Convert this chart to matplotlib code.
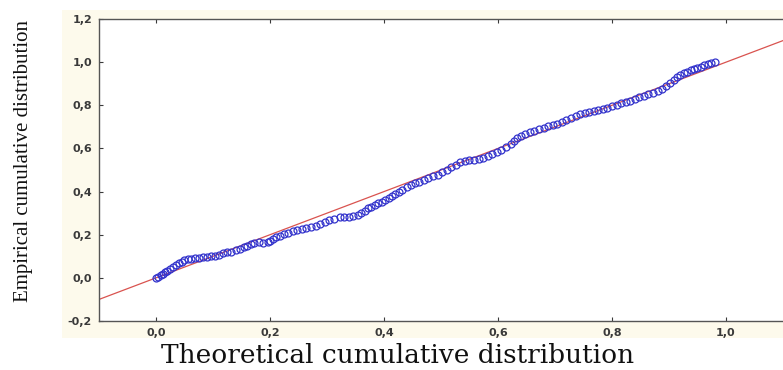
import matplotlib.pyplot as plt
from matplotlib.patches import Rectangle
from matplotlib.ticker import FuncFormatter

# theoretical vs empirical cumulative distribution
theor = [0.000, 0.004, 0.008, 0.012, 0.016, 0.020, 0.025, 0.030, 0.035, 0.040,
         0.045, 0.050, 0.056, 0.062, 0.068, 0.075, 0.082, 0.090, 0.097, 0.104,
         0.111, 0.118, 0.125, 0.132, 0.140, 0.147, 0.154, 0.160, 0.166, 0.172,
         0.180, 0.188, 0.196, 0.200, 0.205, 0.211, 0.218, 0.225, 0.232, 0.240,
         0.248, 0.256, 0.264, 0.272, 0.280, 0.288, 0.296, 0.304, 0.312, 0.322,
         0.330, 0.338, 0.346, 0.354, 0.360, 0.366, 0.372, 0.378, 0.384, 0.390,
         0.396, 0.402, 0.408, 0.414, 0.420, 0.426, 0.432, 0.440, 0.447, 0.455,
         0.462, 0.470, 0.478, 0.486, 0.494, 0.502, 0.510, 0.518, 0.526, 0.534,
         0.542, 0.550, 0.558, 0.566, 0.574, 0.582, 0.590, 0.598, 0.606, 0.614,
         0.622, 0.628, 0.634, 0.640, 0.648, 0.656, 0.664, 0.672, 0.680, 0.688,
         0.696, 0.704, 0.712, 0.720, 0.728, 0.736, 0.744, 0.752, 0.760, 0.768,
         0.776, 0.784, 0.792, 0.800, 0.808, 0.816, 0.824, 0.832, 0.840, 0.848,
         0.856, 0.864, 0.872, 0.880, 0.888, 0.895, 0.902, 0.908, 0.914, 0.920,
         0.926, 0.932, 0.938, 0.944, 0.950, 0.956, 0.962, 0.968, 0.974, 0.980]
empir = [0.000, 0.005, 0.012, 0.020, 0.025, 0.032, 0.040, 0.050, 0.060, 0.068,
         0.075, 0.082, 0.086, 0.088, 0.090, 0.092, 0.095, 0.098, 0.100, 0.103,
         0.108, 0.113, 0.118, 0.122, 0.128, 0.135, 0.142, 0.150, 0.158, 0.162,
         0.165, 0.163, 0.168, 0.172, 0.180, 0.188, 0.195, 0.203, 0.210, 0.215,
         0.220, 0.225, 0.230, 0.236, 0.242, 0.250, 0.258, 0.268, 0.275, 0.280,
         0.282, 0.283, 0.285, 0.290, 0.300, 0.312, 0.322, 0.330, 0.338, 0.345,
         0.352, 0.360, 0.368, 0.378, 0.390, 0.400, 0.408, 0.420, 0.430, 0.438,
         0.445, 0.452, 0.462, 0.470, 0.478, 0.490, 0.500, 0.512, 0.525, 0.535,
         0.540, 0.545, 0.548, 0.552, 0.558, 0.566, 0.575, 0.585, 0.595, 0.605,
         0.620, 0.635, 0.650, 0.660, 0.668, 0.675, 0.683, 0.690, 0.697, 0.703,
         0.708, 0.715, 0.722, 0.730, 0.740, 0.750, 0.758, 0.764, 0.770, 0.774,
         0.778, 0.782, 0.788, 0.795, 0.802, 0.810, 0.816, 0.822, 0.830, 0.838,
         0.845, 0.852, 0.858, 0.866, 0.876, 0.890, 0.905, 0.918, 0.930, 0.940,
         0.948, 0.955, 0.962, 0.968, 0.972, 0.978, 0.985, 0.990, 0.996, 1.000]

ref_line = [-0.1, 1.1]  # y = x reference
x_ticks = [0.0, 0.2, 0.4, 0.6, 0.8, 1.0]
y_ticks = [-0.2, 0.0, 0.2, 0.4, 0.6, 0.8, 1.0, 1.2]

fig = plt.figure(figsize=(7.83, 3.70), dpi=100)
fig.patch.set_facecolor('white')

# cream panel behind the plot and tick labels
fig.patches.append(Rectangle((0.079, 0.086), 0.921, 0.887, transform=fig.transFigure,
                             facecolor='#fdfaec', edgecolor='none', zorder=-5))

ax = fig.add_axes([0.1264, 0.1324, 0.8736, 0.8162])
ax.set_zorder(2)
ax.set_facecolor('white')

ax.plot(ref_line, ref_line, color='#d9534f', linewidth=0.9, zorder=2)
ax.plot(theor, empir, linestyle='none', marker='o', markersize=5,
        markerfacecolor='none', markeredgecolor='#3333cc', markeredgewidth=0.9, zorder=3)

ax.set_xlim(-0.1, 1.1)
ax.set_ylim(-0.2, 1.2)
ax.set_xticks(x_ticks)
ax.set_yticks(y_ticks)

comma = FuncFormatter(lambda v, p: ('%.1f' % v).replace('.', ','))
ax.xaxis.set_major_formatter(comma)
ax.yaxis.set_major_formatter(comma)
ax.tick_params(direction='in', length=3, width=0.8, colors='#3a3a3a', labelsize=8,
               top=True, pad=5)
ax.tick_params(axis='x', labeltop=False)
for lbl in ax.get_xticklabels() + ax.get_yticklabels():
    lbl.set_fontweight('semibold')

for s in ['left', 'bottom', 'top']:
    ax.spines[s].set_color('#555555')
    ax.spines[s].set_linewidth(1.0)
ax.spines['right'].set_visible(False)

fig.text(0.03, 0.565, 'Empirical cumulative distribution', rotation=90,
         ha='center', va='center', family='Liberation Serif', fontsize=15, color='#111111')
fig.text(0.508, 0.005, 'Theoretical cumulative distribution',
         ha='center', va='bottom', family='DejaVu Serif', fontsize=19, color='#111111')

fig.savefig('out.png', dpi=100)
